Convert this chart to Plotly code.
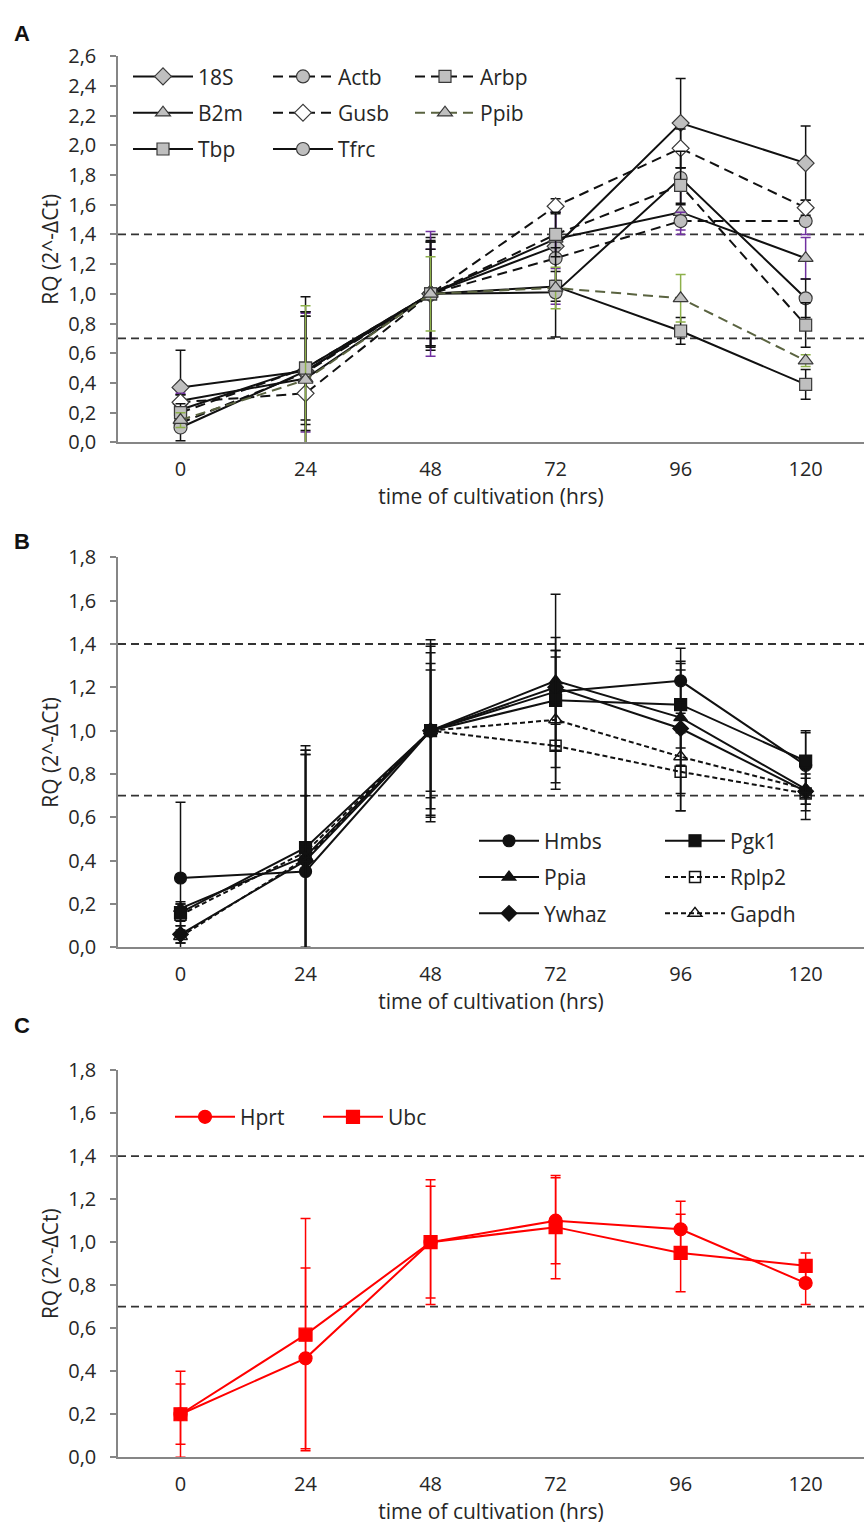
import plotly.graph_objects as go

# ---------------- data ----------------
hours = [0, 24, 48, 72, 96, 120]
hour_labels = ["0", "24", "48", "72", "96", "120"]
thresholds = [0.7, 1.4]

# Panel A – relative quantity per gene
a_18s = [0.37, 0.48, 1.00, 1.32, 2.15, 1.88]
a_actb = [0.13, 0.47, 1.00, 1.24, 1.49, 1.49]
a_arbp = [0.20, 0.50, 1.00, 1.40, 1.73, 0.79]
a_b2m = [0.28, 0.43, 1.00, 1.37, 1.55, 1.24]
a_gusb = [0.27, 0.33, 1.00, 1.59, 1.98, 1.58]
a_ppib = [0.15, 0.42, 1.00, 1.04, 0.97, 0.55]
a_tbp = [0.22, 0.50, 1.00, 1.05, 0.75, 0.39]
a_tfrc = [0.10, 0.48, 1.00, 1.01, 1.78, 0.97]

a_18s_err = [0.25, 0.50, 0.35, 0.23, 0.30, 0.25]
a_actb_err = [0.05, 0.40, 0.42, 0.31, 0.06, 0.09]
a_arbp_err = [0.06, 0.38, 0.35, 0.15, 0.12, 0.15]
a_b2m_err = [0.05, 0.45, 0.30, 0.20, 0.15, 0.14]
a_gusb_err = [0.05, 0.52, 0.30, 0.05, 0.13, 0.05]
a_ppib_err = [0.05, 0.50, 0.25, 0.14, 0.16, 0.04]
a_tbp_err = [0.10, 0.35, 0.38, 0.10, 0.09, 0.10]
a_tfrc_err = [0.09, 0.40, 0.36, 0.30, 0.18, 0.13]

# Panel B
b_hmbs = [0.32, 0.35, 1.00, 1.18, 1.23, 0.84]
b_pgk1 = [0.16, 0.46, 1.00, 1.14, 1.12, 0.86]
b_ppia = [0.18, 0.42, 1.00, 1.23, 1.06, 0.73]
b_rplp2 = [0.15, 0.44, 1.00, 0.93, 0.81, 0.71]
b_ywhaz = [0.06, 0.40, 1.00, 1.20, 1.01, 0.72]
b_gapdh = [0.05, 0.41, 1.00, 1.05, 0.88, 0.73]

b_hmbs_err = [0.35, 0.35, 0.40, 0.25, 0.15, 0.15]
b_pgk1_err = [0.04, 0.47, 0.36, 0.23, 0.20, 0.14]
b_ppia_err = [0.03, 0.49, 0.42, 0.40, 0.22, 0.10]
b_rplp2_err = [0.05, 0.47, 0.31, 0.20, 0.18, 0.12]
b_ywhaz_err = [0.04, 0.49, 0.39, 0.17, 0.30, 0.06]
b_gapdh_err = [0.03, 0.48, 0.28, 0.29, 0.25, 0.07]

# Panel C
c_hprt = [0.20, 0.46, 1.00, 1.10, 1.06, 0.81]
c_ubc = [0.20, 0.57, 1.00, 1.07, 0.95, 0.89]
c_hprt_err = [0.20, 0.42, 0.26, 0.20, 0.13, 0.10]
c_ubc_err = [0.14, 0.54, 0.29, 0.24, 0.18, 0.06]

# ---------------- styles ----------------
FONT = "Open Sans"
TXT = "#262626"
AXIS = "#868686"
BLK = "#111111"
GREY = "#BFBFBF"
EDGE = "#3a3a3a"
PURPLE = "#7030A0"
GREEN = "#8DB04A"
OLIVE = "#5a6340"
RED = "#FF0000"
LONG_DASH = "10px,6px"
SHORT_DASH = "5px,3px"

W, H = 864, 1540


def px_x(p):
    return p / W


def px_y(p):
    return 1 - p / H


fig = go.Figure()


def add_series(name, values, errors, xa, ya, legend, line_color, dash, symbol,
               size, fill, edge, err_color, edge_w=1.2):
    fig.add_trace(go.Scatter(
        x=hours, y=values, name=name, mode="lines+markers",
        xaxis=xa, yaxis=ya, legend=legend, legendgroup=name,
        line=dict(color=line_color, width=2, dash=dash),
        marker=dict(symbol=symbol, size=size, color=fill,
                    line=dict(color=edge, width=edge_w)),
        error_y=dict(type="data", array=errors, visible=True,
                     color=err_color, thickness=1.5, width=5),
    ))


# Panel A traces
add_series("18S", a_18s, a_18s_err, "x", "y", "legend", BLK, "solid", "diamond", 13, GREY, EDGE, BLK)
add_series("B2m", a_b2m, a_b2m_err, "x", "y", "legend", BLK, "solid", "triangle-up", 13, GREY, EDGE, PURPLE)
add_series("Tbp", a_tbp, a_tbp_err, "x", "y", "legend", BLK, "solid", "square", 12, GREY, EDGE, BLK)
add_series("Actb", a_actb, a_actb_err, "x", "y", "legend2", BLK, LONG_DASH, "circle", 13, GREY, EDGE, PURPLE)
add_series("Gusb", a_gusb, a_gusb_err, "x", "y", "legend2", BLK, LONG_DASH, "diamond", 13, "white", EDGE, BLK)
add_series("Tfrc", a_tfrc, a_tfrc_err, "x", "y", "legend2", BLK, "solid", "circle", 13, GREY, EDGE, BLK)
add_series("Arbp", a_arbp, a_arbp_err, "x", "y", "legend3", BLK, LONG_DASH, "square", 12, GREY, EDGE, BLK)
add_series("Ppib", a_ppib, a_ppib_err, "x", "y", "legend3", OLIVE, LONG_DASH, "triangle-up", 13, GREY, EDGE, GREEN)

# Panel B traces
add_series("Hmbs", b_hmbs, b_hmbs_err, "x2", "y2", "legend4", BLK, "solid", "circle", 12, BLK, BLK, BLK)
add_series("Ppia", b_ppia, b_ppia_err, "x2", "y2", "legend4", BLK, "solid", "triangle-up", 12, BLK, BLK, BLK)
add_series("Ywhaz", b_ywhaz, b_ywhaz_err, "x2", "y2", "legend4", BLK, "solid", "diamond", 12, BLK, BLK, BLK)
add_series("Pgk1", b_pgk1, b_pgk1_err, "x2", "y2", "legend5", BLK, "solid", "square", 12, BLK, BLK, BLK)
add_series("Rplp2", b_rplp2, b_rplp2_err, "x2", "y2", "legend5", BLK, SHORT_DASH, "square-open", 11, BLK, BLK, BLK, 1.5)
add_series("Gapdh", b_gapdh, b_gapdh_err, "x2", "y2", "legend5", BLK, SHORT_DASH, "triangle-up-open", 12, BLK, BLK, BLK, 1.5)

# Panel C traces
add_series("Hprt", c_hprt, c_hprt_err, "x3", "y3", "legend6", RED, "solid", "circle", 13, RED, RED, RED)
add_series("Ubc", c_ubc, c_ubc_err, "x3", "y3", "legend7", RED, "solid", "square", 13, RED, RED, RED)

# ---------------- axes ----------------
x_domain = [px_x(118), 1.0]
x_range = [-12.0, 131.2]
panels = [
    # (suffix, bottom px, top px, y max)
    ("", 436, 43, 2.6),
    ("2", 950, 553, 1.8),
    ("3", 1469, 1075, 1.8),
]

tickfont = dict(family=FONT, size=20, color=TXT)
titlefont = dict(family=FONT, size=21, color=TXT)
layout_axes = {}
for suf, bot, top, ymax in panels:
    layout_axes["xaxis" + suf] = dict(
        domain=x_domain, range=x_range, anchor="y" + suf,
        tickmode="array", tickvals=hours, ticktext=hour_labels,
        showline=True, linecolor=AXIS, linewidth=1.5, mirror=False,
        showgrid=False, zeroline=False, ticks="", ticklabelstandoff=8,
        tickfont=tickfont,
        title=dict(text="time of cultivation (hrs)", font=titlefont, standoff=4),
    )
    layout_axes["yaxis" + suf] = dict(
        domain=[px_y(bot), px_y(top)], range=[0, ymax], anchor="x" + suf,
        dtick=0.2, tick0=0, tickformat=".1f",
        showline=True, linecolor=AXIS, linewidth=1.5,
        ticks="outside", ticklen=6, tickcolor=AXIS, tickwidth=1.5,
        showgrid=False, zeroline=False, ticklabelstandoff=10,
        tickfont=tickfont,
        title=dict(text="RQ (2^-ΔCt)", font=titlefont, standoff=4),
    )

# dashed reference levels
shapes = []
for suf, _, _, _ in panels:
    xa = "x" + suf if suf else "x"
    ya = "y" + suf if suf else "y"
    for t in thresholds:
        shapes.append(dict(
            type="line", xref=f"{xa} domain", yref=ya, x0=0, x1=1, y0=t, y1=t,
            line=dict(color="#333333", width=1.8, dash="8px,5px"), layer="below",
        ))

# ---------------- legends ----------------
legfont = dict(family=FONT, size=21, color=TXT)


def legend_at(x_px, y_px):
    return dict(
        x=px_x(x_px), y=px_y(y_px), xanchor="left", yanchor="top",
        xref="paper", yref="paper", orientation="v",
        font=legfont, bgcolor="rgba(0,0,0,0)", borderwidth=0,
        itemwidth=60, tracegroupgap=6, itemclick=False, itemdoubleclick=False,
    )


letters = [("A", 22, 20), ("B", 22, 537), ("C", 22, 1030)]
annotations = [
    dict(text=f"<b>{t}</b>", x=px_x(x), y=px_y(y), xref="paper", yref="paper",
         xanchor="center", yanchor="middle", showarrow=False,
         font=dict(family="Liberation Sans", size=22, color="#111111"))
    for t, x, y in letters
]

fig.update_layout(
    width=W, height=H, margin=dict(l=0, r=0, t=0, b=0),
    paper_bgcolor="white", plot_bgcolor="white",
    separators=", ",
    font=dict(family=FONT, color=TXT),
    shapes=shapes, annotations=annotations,
    legend=legend_at(128, 43),
    legend2=legend_at(268, 43),
    legend3=legend_at(410, 43),
    legend4=legend_at(474, 821),
    legend5=legend_at(660, 821),
    legend6=legend_at(170, 1102),
    legend7=legend_at(318, 1102),
    **layout_axes,
)

fig.write_html("out.html")
